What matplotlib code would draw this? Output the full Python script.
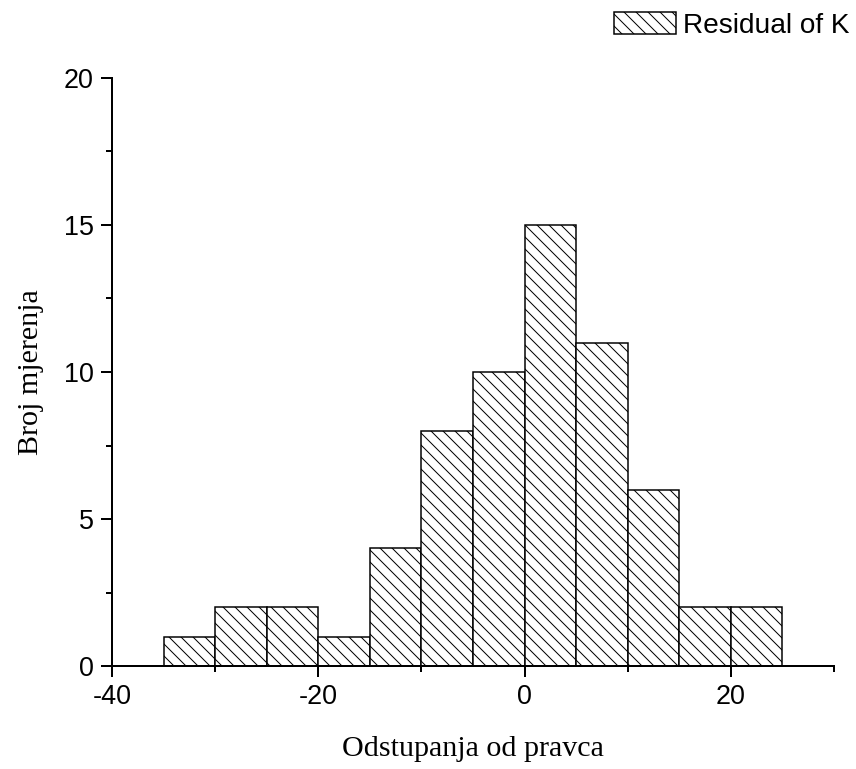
import matplotlib.pyplot as plt
from matplotlib.ticker import MultipleLocator

# histogram bins (left edges) and counts
bin_left = [-35, -30, -25, -20, -15, -10, -5, 0, 5, 10, 15, 20]
bin_width = 5
counts = [1, 2, 2, 1, 4, 8, 10, 15, 11, 6, 2, 2]

plt.rcParams['hatch.linewidth'] = 1.0
plt.rcParams['hatch.color'] = '#333333'
plt.rcParams['axes.unicode_minus'] = False

fig = plt.figure(figsize=(856/72, 769/72), dpi=72)
ax = fig.add_axes([0.1308, 0.1339, 0.9743-0.1308, 0.8986-0.1339])

ax.bar(bin_left, counts, width=bin_width, align='edge', color='white',
       edgecolor='black', linewidth=1.5, hatch='\\\\', label='Residual of K')

ax.set_xlim(-40, 30)
ax.set_ylim(0, 20)
ax.spines['top'].set_visible(False)
ax.spines['right'].set_visible(False)
ax.spines['left'].set_linewidth(2)
ax.spines['bottom'].set_linewidth(2)

ax.xaxis.set_major_locator(MultipleLocator(20))
ax.xaxis.set_minor_locator(MultipleLocator(10))
ax.yaxis.set_major_locator(MultipleLocator(5))
ax.yaxis.set_minor_locator(MultipleLocator(2.5))
ax.tick_params(which='major', direction='out', length=11, width=2,
               labelsize=27, pad=7)
ax.tick_params(which='minor', direction='out', length=6, width=2)
for lab in ax.get_xticklabels() + ax.get_yticklabels():
    lab.set_fontfamily('Liberation Sans')

ax.set_xlabel('Odstupanja od pravca', fontfamily='Liberation Serif',
              fontsize=30, labelpad=26)
ax.set_ylabel('Broj mjerenja', fontfamily='Liberation Serif',
              fontsize=30, labelpad=20)

fig.legend(loc='upper right', bbox_to_anchor=(1.012, 1.006), frameon=False,
           prop={'family': 'Liberation Sans', 'size': 28},
           handlelength=2.2, handleheight=0.8, handletextpad=0.25,
           borderaxespad=0.2)

fig.savefig('out.png', dpi=72)
